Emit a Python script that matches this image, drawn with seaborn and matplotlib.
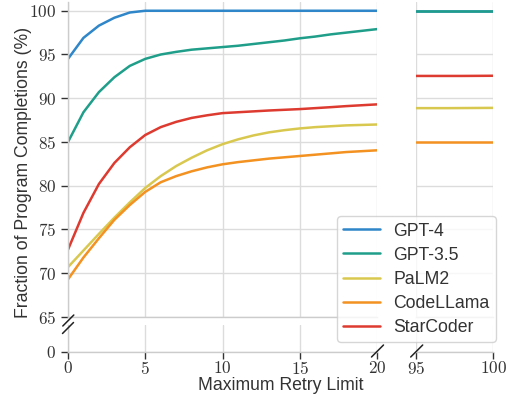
import numpy as np
import pandas as pd
import matplotlib
matplotlib.use("Agg")
import matplotlib.pyplot as plt
import seaborn as sns
from matplotlib.lines import Line2D
from matplotlib.ticker import FuncFormatter, FixedLocator

# ---------------- data ----------------
models = ["GPT-4", "GPT-3.5", "PaLM2", "CodeLLama", "StarCoder"]
colors = ["#2f86c8", "#1f9e8a", "#d9c84f", "#f39121", "#dd3a30"]

retry_left = list(range(0, 21))
gpt4_left = [94.5, 96.9, 98.3, 99.2, 99.8, 100, 100, 100, 100, 100, 100,
             100, 100, 100, 100, 100, 100, 100, 100, 100, 100]
gpt35_left = [85.0, 88.4, 90.7, 92.4, 93.7, 94.5, 95.0, 95.3, 95.55, 95.7, 95.85,
              96.0, 96.2, 96.4, 96.6, 96.85, 97.05, 97.3, 97.5, 97.7, 97.9]
palm2_left = [70.7, 72.6, 74.5, 76.35, 78.1, 79.75, 81.1, 82.25, 83.2, 84.05, 84.75,
              85.3, 85.75, 86.1, 86.35, 86.55, 86.7, 86.8, 86.9, 86.95, 87.0]
codellama_left = [69.3, 71.8, 74.0, 76.1, 77.8, 79.3, 80.4, 81.1, 81.65, 82.1, 82.45,
                  82.7, 82.9, 83.1, 83.25, 83.4, 83.55, 83.7, 83.85, 83.95, 84.05]
starcoder_left = [72.7, 76.9, 80.2, 82.6, 84.4, 85.8, 86.7, 87.3, 87.75, 88.05, 88.3,
                  88.4, 88.5, 88.6, 88.68, 88.76, 88.87, 88.98, 89.1, 89.2, 89.3]

retry_right = [95, 96, 97, 98, 99, 100]
gpt4_right = [100, 100, 100, 100, 100, 100]
gpt35_right = [100, 100, 100, 100, 100, 100]
palm2_right = [88.87, 88.87, 88.87, 88.88, 88.89, 88.9]
codellama_right = [85.02, 85.02, 85.02, 85.02, 85.02, 85.02]
starcoder_right = [92.55, 92.55, 92.55, 92.55, 92.56, 92.57]

yticks_top = [65, 70, 75, 80, 85, 90, 95, 100]
xticks_left = [0, 5, 10, 15, 20]
xticks_right = [95, 100]

left_series = [gpt4_left, gpt35_left, palm2_left, codellama_left, starcoder_left]
right_series = [gpt4_right, gpt35_right, palm2_right, codellama_right, starcoder_right]

def long_df(xs, series):
    rows = []
    for m, ys in zip(models, series):
        for x, y in zip(xs, ys):
            rows.append({"retry": x, "pct": y, "model": m})
    return pd.DataFrame(rows)

df_left = long_df(retry_left, left_series)
df_right = long_df(retry_right, right_series)

# ---------------- style ----------------
sns.set_theme(style="whitegrid")
plt.rcParams["font.family"] = ["Liberation Sans", "DejaVu Sans"]
plt.rcParams["mathtext.fontset"] = "cm"
plt.rcParams["grid.color"] = "#dcdcdc"
plt.rcParams["grid.linewidth"] = 1.0
plt.rcParams["axes.edgecolor"] = "#cccccc"
plt.rcParams["axes.linewidth"] = 1.0

FS = 12.7
TFS = 12.3
W, H = 513, 397
fig = plt.figure(figsize=(W / 100, H / 100), dpi=100)

def box(l, t, r, b):
    return [l / W, 1 - b / H, (r - l) / W, (b - t) / H]

ax_tl = fig.add_axes(box(68, 2, 377, 317))
ax_tr = fig.add_axes(box(416, 2, 493, 317))
ax_bl = fig.add_axes(box(68, 325, 377, 352))
ax_br = fig.add_axes(box(416, 325, 493, 352))

sns.lineplot(data=df_left, x="retry", y="pct", hue="model", hue_order=models,
             palette=colors, ax=ax_tl, legend=False, linewidth=1.8)
sns.lineplot(data=df_right, x="retry", y="pct", hue="model", hue_order=models,
             palette=colors, ax=ax_tr, legend=False, linewidth=1.8)

fmt = FuncFormatter(lambda v, p: rf"${v:g}$")

for ax in (ax_tl, ax_tr):
    ax.set_ylim(65, 101)
    ax.yaxis.set_major_locator(FixedLocator(yticks_top))
for ax in (ax_bl, ax_br):
    ax.set_ylim(0, 3)
    ax.yaxis.set_major_locator(FixedLocator([0]))
for ax in (ax_tl, ax_bl):
    ax.set_xlim(0, 20)
    ax.xaxis.set_major_locator(FixedLocator(xticks_left))
for ax in (ax_tr, ax_br):
    ax.set_xlim(95, 100)
    ax.xaxis.set_major_locator(FixedLocator(xticks_right))

for ax in (ax_tl, ax_tr, ax_bl, ax_br):
    ax.set_xlabel("")
    ax.set_ylabel("")
    ax.grid(True)
    ax.spines["top"].set_visible(False)
    ax.spines["right"].set_visible(False)
    ax.xaxis.set_major_formatter(fmt)
    ax.yaxis.set_major_formatter(fmt)
    ax.tick_params(axis="both", which="major", length=5, width=1,
                   color="#333333", labelsize=TFS, labelcolor="#333333")
    ax.tick_params(axis="y", pad=3.5)
    ax.tick_params(axis="x", pad=1.0)

for ax in (ax_tl, ax_tr):
    ax.tick_params(axis="x", bottom=False, labelbottom=False)
for ax in (ax_tr, ax_br):
    ax.tick_params(axis="y", left=False, labelleft=False)
    ax.spines["left"].set_visible(False)
for ax in (ax_tl, ax_bl):
    ax.tick_params(axis="y", left=True)
for ax in (ax_bl, ax_br):
    ax.tick_params(axis="x", bottom=True)

# labels
fig.text(23.5 / W, 1 - 172 / H, "Fraction of Program Completions (%)",
         rotation=90, ha="center", va="center", fontsize=FS, color="#333333")
fig.text(281 / W, 1 - 386 / H, "Maximum Retry Limit",
         ha="center", va="center", fontsize=FS, color="#333333")

# break marks
def brk(cx, cy, s):
    fig.add_artist(Line2D([(cx - s) / W, (cx + s) / W],
                          [1 - (cy + s) / H, 1 - (cy - s) / H],
                          transform=fig.transFigure, color="#222222", lw=1.1))

brk(68.3, 320.5, 5.5)
brk(68.0, 328.0, 5.5)
brk(377.5, 351.0, 6.0)
brk(416.7, 351.0, 6.0)

# legend
handles = [Line2D([], [], color=c, lw=1.8) for c in colors]
leg = fig.legend(handles, models, loc="lower left",
                 bbox_to_anchor=(337 / W, 1 - 342 / H), frameon=True,
                 fontsize=FS, framealpha=0.8, edgecolor="#cccccc",
                 borderaxespad=0, borderpad=0.35, handlelength=2.1,
                 handletextpad=0.75, labelspacing=0.4)
for t in leg.get_texts():
    t.set_color("#333333")

fig.savefig("out.png", dpi=100)
